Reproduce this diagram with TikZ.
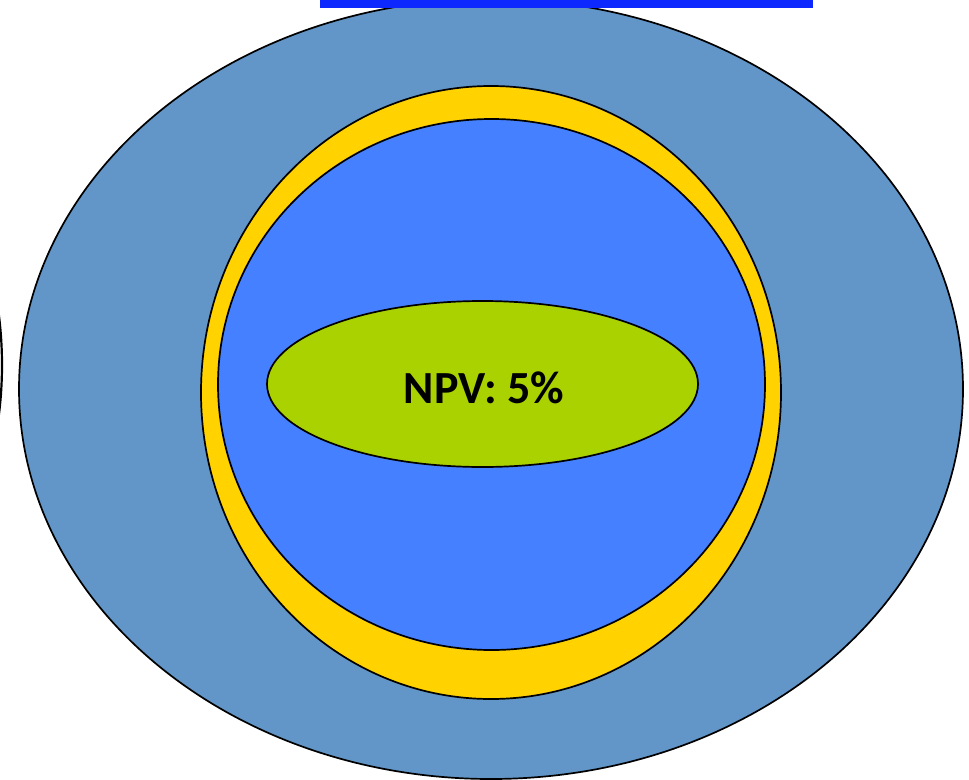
\documentclass[tikz,border=0pt]{standalone}
\usepackage{fontspec}
\setmainfont{Carlito}
\definecolor{outerblue}{RGB}{98,150,200}
\definecolor{barblue}{RGB}{12,40,255}
\definecolor{ringyellow}{RGB}{255,210,0}
\definecolor{innerblue}{RGB}{68,128,255}
\definecolor{npvgreen}{RGB}{170,210,0}
\begin{document}
\begin{tikzpicture}[x=1pt,y=-1pt,
  shapeline/.style={draw=black,line width=1.7pt}]
\useasboundingbox (0,0) rectangle (969,779);
\begin{scope}
\clip (0,0) rectangle (969,779);
\draw[shapeline,line width=2.2pt] (-98,365) ellipse [x radius=100, y radius=200];
\path[shapeline,fill=outerblue] (491,389) ellipse [x radius=472, y radius=390];
\fill[barblue] (320,0) rectangle (813,8);
\end{scope}
\path[shapeline,fill=ringyellow] (491,392.5) ellipse [x radius=290, y radius=306.5];
\path[shapeline,fill=innerblue] (491.5,384.5) ellipse [x radius=273.5, y radius=265.5];
\path[shapeline,fill=npvgreen] (482.5,384) ellipse [x radius=215.5, y radius=83];
\node (npv) at (484,388) {\fontsize{46}{50}\selectfont\bfseries NPV: 5\%};
\end{tikzpicture}
\end{document}
